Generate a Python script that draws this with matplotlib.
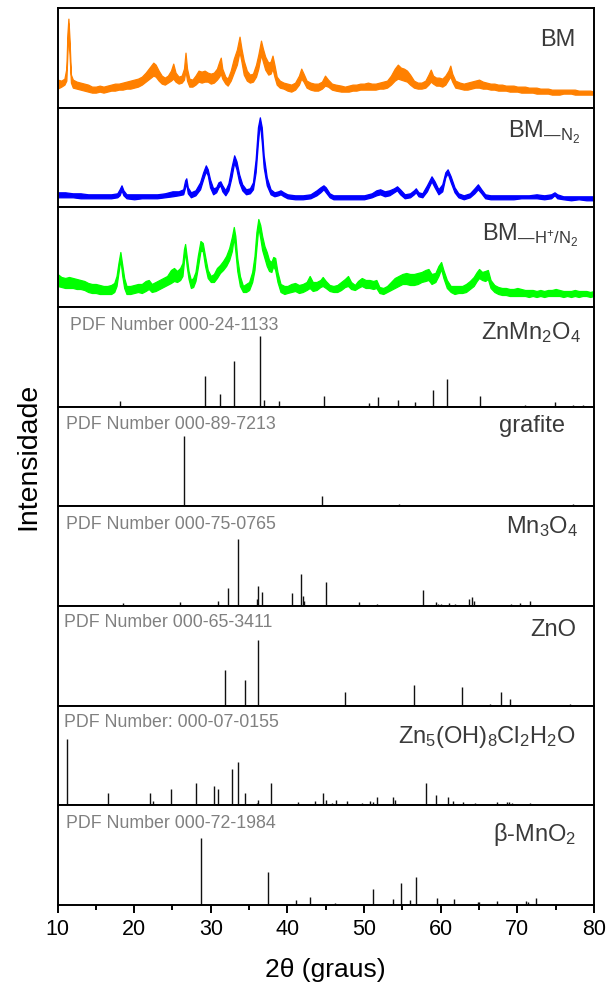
import matplotlib
matplotlib.use("Agg")
import matplotlib.pyplot as plt
from matplotlib.ticker import MultipleLocator

plt.rcParams['font.family'] = ['Liberation Sans', 'DejaVu Sans']
plt.rcParams['mathtext.fontset'] = 'custom'
plt.rcParams['mathtext.rm'] = 'Liberation Sans'
plt.rcParams['mathtext.it'] = 'Liberation Sans:italic'
plt.rcParams['mathtext.bf'] = 'Liberation Sans:bold'

# --- measured patterns: 2theta, lower and upper edge of the noisy trace ---
bm_tt = [10.0, 10.5, 10.9, 11.15, 11.3, 11.42, 11.55, 11.75, 12.0, 12.5, 13.0, 13.5, 14.0, 14.5,
         15.0, 15.5, 16.0, 16.5, 17.0, 17.5, 18.0, 18.5, 19.0, 19.5, 20.0, 20.5, 21.0, 21.5,
         22.0, 22.5, 22.8, 23.2, 23.6, 24.0, 24.4, 24.8, 25.1, 25.4, 25.8, 26.2, 26.5, 26.7,
         26.9, 27.2, 27.6, 28.0, 28.4, 28.8, 29.2, 29.6, 30.0, 30.4, 30.8, 31.1, 31.3, 31.5,
         31.9, 32.2, 32.6, 33.0, 33.4, 33.75, 34.0, 34.3, 34.7, 35.1, 35.5, 35.9, 36.2, 36.55,
         36.8, 37.1, 37.5, 37.8, 38.05, 38.3, 38.6, 39.0, 39.5, 40.0, 40.5, 41.0, 41.5, 41.8,
         42.1, 42.5, 43.0, 43.5, 44.0, 44.5, 44.9, 45.3, 45.8, 46.3, 47.0, 47.5, 48.0, 48.5,
         49.0, 49.5, 50.0, 50.5, 51.0, 51.5, 52.0, 52.5, 53.0, 53.5, 54.0, 54.4, 54.8, 55.2,
         55.6, 56.0, 56.5, 57.0, 57.5, 58.0, 58.4, 58.7, 59.0, 59.4, 59.8, 60.2, 60.6, 61.0,
         61.25, 61.5, 61.9, 62.5, 63.0, 63.5, 64.0, 64.5, 65.0, 65.5, 66.0, 66.5, 67.0, 67.5,
         68.0, 68.5, 69.0, 69.5, 70.0, 70.5, 71.0, 71.5, 72.0, 72.5, 73.0, 73.5, 74.0, 74.5,
         75.0, 75.5, 76.0, 76.5, 77.0, 77.5, 78.0, 78.5, 79.0, 79.5, 80.0]
bm_lo = [19, 21, 23, 27, 56, 84, 56, 25, 20, 19, 18, 17, 16, 15,
         15, 16, 15, 16, 17, 17, 18, 18, 19, 19, 20, 21, 23, 26,
         29, 32, 31, 27, 24, 23, 25, 27, 29, 26, 24, 25, 28, 37,
         27, 21, 21, 23, 26, 25, 26, 26, 24, 25, 28, 31, 34, 29,
         24, 22, 27, 35, 43, 56, 46, 33, 27, 25, 26, 31, 39, 53,
         46, 38, 33, 34, 39, 31, 23, 20, 19, 17, 16, 18, 23, 29,
         26, 20, 18, 17, 17, 19, 22, 21, 18, 17, 16, 16, 16, 17,
         17, 18, 18, 18, 18, 18, 19, 19, 20, 23, 27, 29, 28, 27,
         26, 23, 20, 19, 19, 20, 23, 26, 24, 22, 22, 21, 23, 28,
         31, 26, 20, 19, 18, 18, 19, 20, 20, 19, 19, 18, 18, 17,
         17, 17, 16, 16, 16, 15, 15, 15, 15, 14, 14, 14, 14, 13,
         13, 13, 14, 14, 14, 13, 13, 13, 13, 13, 13]
bm_hi = [28, 27, 29, 39, 75, 89, 71, 33, 28, 26, 25, 24, 23, 21,
         21, 22, 21, 22, 23, 24, 24, 25, 26, 27, 28, 29, 31, 35,
         40, 45, 43, 37, 32, 30, 32, 37, 44, 35, 31, 32, 39, 55,
         39, 29, 28, 32, 37, 36, 37, 35, 34, 35, 39, 46, 50, 39,
         31, 29, 37, 49, 58, 71, 59, 47, 37, 33, 34, 43, 53, 67,
         59, 51, 45, 46, 52, 43, 31, 27, 25, 24, 23, 25, 32, 39,
         34, 27, 25, 24, 24, 26, 32, 28, 24, 23, 22, 21, 22, 23,
         23, 24, 24, 25, 24, 24, 25, 26, 27, 32, 39, 43, 40, 39,
         37, 33, 27, 25, 25, 27, 33, 38, 32, 30, 30, 29, 32, 37,
         42, 34, 27, 25, 24, 25, 26, 27, 28, 26, 25, 24, 24, 23,
         23, 22, 22, 22, 21, 21, 21, 20, 20, 20, 19, 19, 19, 18,
         18, 18, 18, 18, 18, 18, 17, 17, 17, 17, 16]

n2_tt = [10.0, 11.0, 12.0, 13.0, 14.0, 15.0, 16.0, 17.0, 17.8, 18.1, 18.35, 18.6, 19.0, 20.0,
         21.0, 22.0, 23.0, 24.0, 25.0, 25.8, 26.4, 26.65, 26.8, 27.0, 27.4, 28.0, 28.6, 29.0,
         29.35, 29.6, 29.9, 30.3, 30.7, 31.0, 31.25, 31.5, 31.9, 32.3, 32.7, 33.05, 33.35, 33.7,
         34.1, 34.6, 35.1, 35.5, 35.85, 36.15, 36.4, 36.65, 36.9, 37.3, 37.8, 38.3, 38.8, 39.1,
         39.5, 40.0, 41.0, 42.0, 43.0, 43.8, 44.3, 44.7, 45.0, 45.5, 46.0, 47.0, 48.0, 49.0,
         50.0, 51.0, 51.6, 52.1, 52.7, 53.3, 53.9, 54.3, 54.7, 55.3, 56.0, 56.5, 56.75, 57.1,
         57.6, 58.2, 58.8, 59.2, 59.7, 60.2, 60.6, 60.9, 61.3, 61.8, 62.3, 63.0, 63.8, 64.4,
         64.85, 65.3, 65.8, 66.5, 67.5, 68.5, 69.5, 70.5, 71.5, 72.5, 73.5, 74.4, 74.85, 75.2,
         76.0, 77.0, 78.0, 79.0, 80.0]
n2_lo = [10, 10, 10, 9, 9, 9, 9, 9, 10, 12, 17, 12, 9, 8,
         9, 9, 9, 10, 11, 12, 13, 20, 24, 14, 10, 12, 18, 28,
         36, 32, 20, 13, 15, 20, 22, 16, 12, 17, 30, 45, 38, 25,
         17, 13, 14, 18, 35, 65, 85, 65, 40, 22, 13, 11, 12, 13,
         11, 9, 8, 8, 9, 12, 15, 18, 15, 10, 8, 8, 8, 8,
         8, 10, 12, 13, 11, 12, 15, 17, 13, 9, 10, 13, 15, 11,
         10, 16, 26, 20, 13, 16, 30, 34, 25, 15, 10, 8, 10, 14,
         18, 14, 9, 8, 8, 8, 8, 9, 9, 9, 8, 9, 12, 9,
         8, 7, 8, 7, 7]
n2_hi = [15, 15, 14, 14, 13, 13, 13, 13, 14, 18, 22, 17, 13, 13,
         13, 13, 13, 14, 16, 16, 18, 27, 29, 20, 15, 17, 25, 35,
         42, 38, 28, 19, 20, 25, 26, 22, 17, 24, 40, 52, 46, 33,
         23, 18, 19, 25, 48, 80, 90, 80, 52, 30, 18, 15, 16, 17,
         15, 13, 12, 12, 13, 17, 20, 22, 20, 14, 12, 12, 12, 12,
         12, 14, 17, 18, 16, 17, 19, 21, 18, 13, 14, 17, 19, 15,
         14, 22, 31, 26, 18, 23, 35, 38, 31, 20, 14, 12, 14, 19,
         23, 18, 13, 12, 12, 12, 12, 12, 12, 13, 12, 13, 15, 13,
         11, 11, 11, 11, 11]

hn2_tt = [10.0, 10.5, 11.0, 11.5, 12.0, 12.5, 13.0, 13.5, 14.0, 14.5, 15.0, 15.5, 16.0, 16.5,
          17.0, 17.4, 17.7, 17.95, 18.2, 18.45, 18.7, 19.0, 19.5, 20.0, 20.5, 21.0, 21.5, 21.9,
          22.3, 22.8, 23.3, 23.8, 24.3, 24.8, 25.2, 25.6, 26.0, 26.3, 26.5, 26.65, 26.85, 27.1,
          27.4, 27.7, 28.0, 28.3, 28.65, 28.95, 29.25, 29.6, 30.0, 30.4, 30.8, 31.2, 31.6, 32.0,
          32.4, 32.75, 33.0, 33.2, 33.45, 33.8, 34.2, 34.6, 35.0, 35.4, 35.7, 35.95, 36.2, 36.45,
          36.7, 37.0, 37.3, 37.6, 37.9, 38.15, 38.4, 38.7, 39.1, 39.6, 40.0, 40.5, 41.0, 41.5,
          42.0, 42.5, 42.9, 43.3, 43.8, 44.3, 44.6, 45.0, 45.5, 46.0, 46.5, 47.0, 47.5, 47.9,
          48.3, 48.8, 49.2, 49.7, 50.2, 50.7, 51.2, 51.6, 52.0, 52.5, 53.0, 53.5, 54.0, 54.5,
          55.0, 55.5, 56.0, 56.5, 57.0, 57.5, 58.0, 58.4, 58.8, 59.3, 59.7, 60.05, 60.35, 60.8,
          61.3, 61.8, 62.3, 62.8, 63.3, 63.8, 64.3, 64.7, 65.0, 65.4, 65.8, 66.15, 66.5, 67.0,
          67.5, 68.0, 68.5, 69.0, 69.5, 70.0, 70.5, 71.0, 71.5, 72.0, 72.5, 73.0, 73.5, 74.0,
          74.5, 75.0, 75.5, 76.0, 76.5, 77.0, 77.5, 78.0, 78.5, 79.0, 79.5, 80.0]
hn2_lo = [21, 20, 19, 19, 19, 18, 18, 17, 15, 14, 14, 13, 13, 13,
          13, 15, 21, 34, 48, 31, 19, 13, 13, 14, 15, 14, 16, 18,
          15, 16, 18, 20, 22, 24, 26, 25, 27, 31, 46, 56, 41, 28,
          19, 20, 26, 39, 56, 56, 41, 29, 25, 25, 29, 34, 37, 41,
          47, 56, 70, 56, 36, 21, 15, 15, 17, 25, 37, 59, 80, 69,
          57, 49, 41, 36, 35, 41, 37, 25, 15, 13, 14, 15, 16, 14,
          15, 17, 19, 16, 17, 20, 21, 19, 16, 15, 15, 17, 20, 21,
          18, 17, 19, 21, 19, 19, 18, 19, 14, 13, 15, 17, 19, 21,
          23, 23, 22, 22, 23, 25, 26, 27, 23, 25, 31, 38, 29, 19,
          15, 13, 14, 14, 15, 18, 21, 26, 29, 27, 26, 28, 19, 15,
          13, 12, 12, 11, 11, 11, 11, 11, 10, 11, 10, 11, 10, 11,
          11, 11, 11, 10, 11, 10, 11, 10, 11, 11, 10, 11]
hn2_hi = [33, 30, 29, 30, 29, 28, 27, 26, 24, 23, 23, 22, 21, 21,
          22, 24, 31, 44, 55, 42, 29, 21, 21, 22, 23, 23, 26, 27,
          23, 25, 27, 29, 31, 37, 39, 36, 39, 44, 58, 63, 51, 36,
          27, 29, 35, 51, 66, 64, 51, 37, 31, 33, 39, 42, 46, 51,
          59, 70, 80, 71, 49, 31, 21, 23, 25, 35, 51, 75, 88, 82,
          71, 61, 55, 47, 45, 50, 49, 35, 23, 21, 21, 23, 24, 22,
          23, 25, 31, 25, 25, 27, 30, 26, 22, 21, 22, 25, 28, 31,
          25, 22, 26, 29, 27, 27, 26, 27, 20, 19, 21, 25, 29, 31,
          33, 34, 33, 33, 34, 35, 37, 38, 33, 34, 41, 45, 37, 27,
          21, 21, 21, 21, 23, 26, 30, 35, 38, 35, 36, 37, 27, 22,
          20, 19, 19, 18, 18, 19, 18, 17, 17, 17, 16, 17, 16, 17,
          17, 18, 17, 16, 16, 16, 17, 16, 16, 16, 15, 16]

# --- reference cards: stick positions (2theta) and relative heights ---
znmn2o4_pos = [18.15, 29.28, 31.17, 32.97, 36.39, 36.9, 38.89, 44.72, 50.69, 51.83, 54.43,
               56.66, 58.98, 60.78, 65.14, 70.97, 74.95, 77.31, 78.54]
znmn2o4_int = [5.8, 31, 12.6, 45.6, 70.8, 7.1, 5.8, 10.5, 3.7, 9.5, 7.1,
               5.1, 16.7, 27.2, 10.9, 2, 5.1, 2, 1.4]

grafite_pos = [26.53, 42.35, 44.48, 50.59, 54.6, 59.8, 77.3]
grafite_int = [70.7, 1, 9.9, 1, 2, 1, 2]

mn3o4_pos = [18.53, 26.0, 30.9, 32.3, 33.5, 34.8, 36.0, 36.2, 36.7, 40.6, 41.8, 42.0, 42.2,
             45.05, 49.3, 51.7, 56.66, 57.75, 59.4, 59.7, 60.05, 61.1, 61.9, 63.7, 64.05,
             64.3, 69.2, 70.4, 71.6, 75.4, 78.7]
mn3o4_int = [3.4, 4.1, 5.5, 18.1, 66.6, 1, 6.8, 20.5, 14.3, 12.6, 32.4, 9.6, 5.1,
             23.9, 4.1, 2.4, 1.4, 16.4, 4.1, 2, 2, 3.4, 2.4, 6.8, 9.2,
             5.1, 2, 3.4, 5.5, 1, 1]

zno_pos = [31.84, 34.44, 36.2, 47.5, 56.57, 62.77, 66.37, 67.89, 69.07, 72.5, 76.9]
zno_int = [35.8, 25.7, 66.2, 13.5, 20.3, 18.2, 2, 13.5, 6.8, 1, 1.7]

zhc_pos = [11.23, 16.54, 22.08, 22.5, 24.83, 28.1, 30.37, 30.98, 32.78, 33.5, 34.44, 36.05,
           36.2, 37.8, 41.43, 43.6, 44.7, 45.05, 45.8, 46.3, 47.8, 49.7, 50.8, 51.1, 51.7,
           53.8, 54.05, 55.2, 58.08, 59.36, 60.97, 61.6, 62.9, 63.76, 64.5, 67.4, 68.6, 68.9,
           69.3, 71.6]
zhc_int = [66.6, 12.5, 12.5, 4.4, 15.9, 22.6, 19.3, 15.9, 36.2, 42.9, 12.5, 2.4,
           5.7, 22.6, 3, 4.4, 12.5, 5.7, 2.4, 5.7, 4.4, 2.4, 4, 3.4, 8.1,
           8.1, 5.7, 1.7, 22.6, 10.1, 8.4, 4.4, 3, 1.7, 2, 3, 3.7, 3,
           2, 2]

mno2_pos = [28.71, 37.43, 41.08, 42.93, 46.24, 51.17, 53.78, 54.86, 56.05, 56.8, 59.5, 61.73,
            64.8, 65.05, 67.3, 71.1, 71.35, 72.4, 75.1, 77.3]
mno2_int = [67, 33.3, 5.1, 8.2, 1.7, 16, 5.8, 22.1, 4.8, 28.2, 7.5, 6.5,
            3, 2.7, 3.7, 4.1, 3.4, 7.5, 1, 0.7]

# --- panel texts ---
pattern_labels = ['BM', r'BM$_{\mathrm{—N}_2}$', r'BM$_{\mathrm{—H}^{+}\mathrm{/N}_2}$']
card_labels = [r'ZnMn$_2$O$_4$', 'grafite', r'Mn$_3$O$_4$', 'ZnO',
               r'Zn$_5$(OH)$_8$Cl$_2$H$_2$O', r'β-MnO$_2$']
card_numbers = ['PDF Number 000-24-1133', 'PDF Number 000-89-7213', 'PDF Number 000-75-0765',
                'PDF Number 000-65-3411', 'PDF Number: 000-07-0155', 'PDF Number 000-72-1984']

PANEL_H = 99.7


def draw_pattern(ax, tt, lo, hi, color):
    ax.fill_between(tt, lo, hi, color=color, linewidth=0.9, edgecolor=color)


def draw_card(ax, pos, inten):
    ax.vlines(pos, 0, inten, color='#111111', linewidth=1.0)


def main():
    fig, axes = plt.subplots(9, 1, sharex=True, figsize=(6.08, 9.94), dpi=100)
    fig.subplots_adjust(left=0.0946, right=0.977, top=0.992, bottom=0.0895, hspace=0)

    patterns = [(bm_tt, bm_lo, bm_hi, '#ff8000'),
                (n2_tt, n2_lo, n2_hi, '#0000ff'),
                (hn2_tt, hn2_lo, hn2_hi, '#00ff00')]
    cards = [(znmn2o4_pos, znmn2o4_int), (grafite_pos, grafite_int), (mn3o4_pos, mn3o4_int),
             (zno_pos, zno_int), (zhc_pos, zhc_int), (mno2_pos, mno2_int)]

    label_y = [0.616, 0.70, 0.672, 0.674, 0.743, 0.735, 0.70, 0.627, 0.644]
    label_x = [0.966, 0.975, 0.971, 0.975, 0.946, 0.97, 0.966, 0.966, 0.966]
    number_x = [0.023, 0.015, 0.015, 0.012, 0.013, 0.016]
    number_y = [0.774, 0.774, 0.774, 0.79, 0.79, 0.77]

    for i, ax in enumerate(axes):
        ax.set_xlim(10, 80)
        ax.set_ylim(0, PANEL_H)
        ax.set_yticks([])
        for sp in ax.spines.values():
            sp.set_linewidth(1.4)
        if i < 3:
            tt, lo, hi, color = patterns[i]
            draw_pattern(ax, tt, lo, hi, color)
            text = pattern_labels[i]
        else:
            pos, inten = cards[i - 3]
            draw_card(ax, pos, inten)
            text = card_labels[i - 3]
            ax.text(number_x[i - 3], number_y[i - 3], card_numbers[i - 3], transform=ax.transAxes,
                    ha='left', va='baseline', fontsize=12.8, color='#808080')
        ax.text(label_x[i], label_y[i], text, transform=ax.transAxes, ha='right', va='baseline',
                fontsize=17, color='#3a3a3a')
        if i < 8:
            ax.tick_params(axis='x', which='both', bottom=False, labelbottom=False)

    bottom = axes[-1]
    bottom.xaxis.set_major_locator(MultipleLocator(10))
    bottom.xaxis.set_minor_locator(MultipleLocator(5))
    bottom.tick_params(axis='x', which='major', direction='out', length=6, width=1.4,
                       labelsize=15.5, pad=4)
    bottom.tick_params(axis='x', which='minor', direction='out', length=3.5, width=1.4)
    bottom.set_xlabel('2θ (graus)', fontsize=19, labelpad=13)
    fig.text(0.046, (0.992 + 0.0895) / 2, 'Intensidade', rotation=90, ha='center', va='center',
             fontsize=20.5)

    fig.savefig('out.png', dpi=100)


if __name__ == '__main__':
    main()
